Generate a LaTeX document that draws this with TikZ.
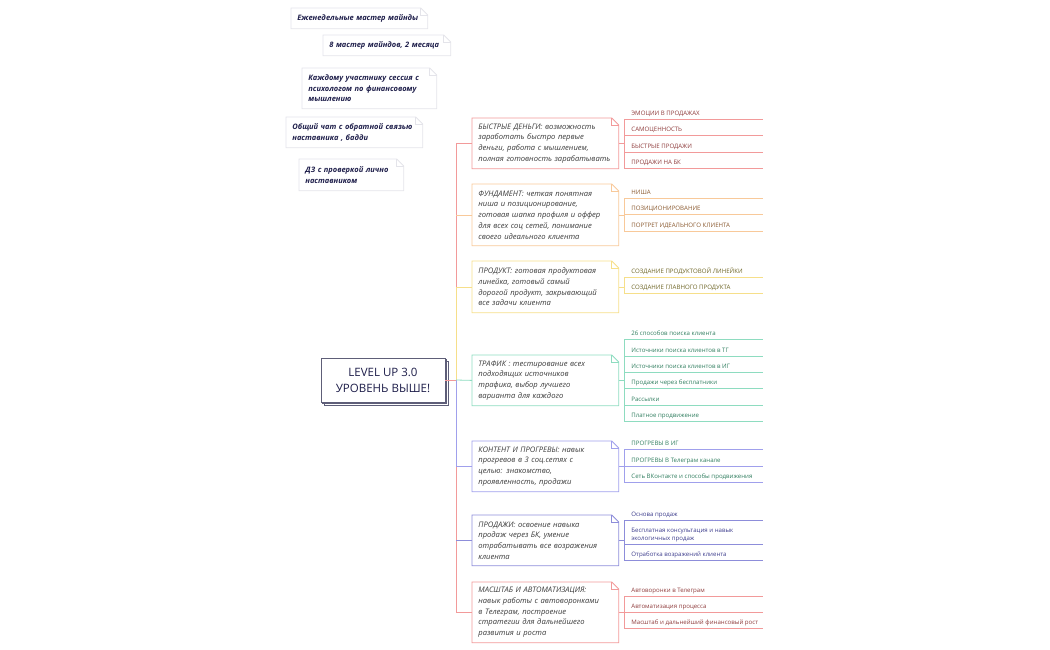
\documentclass[tikz,border=0pt]{standalone}
\usepackage{fontspec}
\setmainfont{Open Sans}
\usepackage{xcolor}
\usepackage{tikz}
\usetikzlibrary{shadows,calc,positioning}
\definecolor{fastred}{HTML}{F29A9A}
\definecolor{baseorange}{HTML}{F8C99A}
\definecolor{prodyellow}{HTML}{F6DF8A}
\definecolor{trafgreen}{HTML}{8EDCC0}
\definecolor{contblue}{HTML}{A0A0EC}
\definecolor{salesblue}{HTML}{8D8DDA}
\definecolor{scalered}{HTML}{F29A9A}
\definecolor{redtext}{HTML}{8E3B3B}
\definecolor{browntext}{HTML}{8A5A30}
\definecolor{olivetext}{HTML}{6E6526}
\definecolor{greentext}{HTML}{2F7D5E}
\definecolor{navytext}{HTML}{3C3C8C}
\definecolor{bodytext}{HTML}{3A3A3A}
\definecolor{notetext}{HTML}{1E1E4A}
\definecolor{notegray}{HTML}{E4E4EA}
\definecolor{rootline}{HTML}{5E5E78}
\newcommand{\dogear}[2]{%
  \draw[#2] ([xshift=-7pt]#1.north east) -- (#1.north west) -- (#1.south west)
    -- (#1.south east) -- ([yshift=-7pt]#1.north east) -- cycle;
  \draw[#2] ([xshift=-7pt]#1.north east) |- ([yshift=-7pt]#1.north east);
}

\begin{document}
\begin{tikzpicture}[x=1pt, y=-1pt, line width=0.8pt,
  note/.style={anchor=north west, text width=#1, inner xsep=6pt, align=left, text=notetext,
    font=\fontsize{7.5}{10.5}\selectfont\bfseries\itshape},
  branch/.style={anchor=north west, text width=134pt, inner xsep=6pt, align=left, text=bodytext,
    font=\fontsize{7.6}{10.7}\selectfont\itshape},
  leaf/.style={anchor=south west, inner xsep=7pt, inner ysep=2.5pt, text depth=1pt,
    align=left, font=\fontsize{6.1}{8}\selectfont,
    append after command={(\tikzlastnode.south west) edge[draw=#1] ++(139,0)}},
  root/.style={draw=rootline, fill=white, minimum width=124pt, minimum height=44pt, align=center,
    text=notetext, font=\fontsize{11.5}{16}\selectfont,
    double copy shadow={shadow xshift=1.5pt, shadow yshift=-1.5pt, draw=rootline, fill=white}}]
\useasboundingbox (0,0) rectangle (1050,650);

% notes
\node[note=124pt, minimum height=20pt] (weekly) at (291,8) {Еженедельные мастер майнды};
\node[note=115pt, minimum height=20pt] (eight) at (323,35) {8 мастер майндов, 2 месяца};
\node[note=122pt, minimum height=40pt] (session) at (302,68) {Каждому участнику сессия с\\психологом по финансовому\\мышлению};
\node[note=124pt, minimum height=30pt] (chat) at (286,117) {Общий чат с обратной связью\\наставника , бадди};
\node[note=92pt, minimum height=31pt] (homework) at (299,159) {ДЗ с проверкой лично\\наставником};
\dogear{weekly}{notegray}
\dogear{eight}{notegray}
\dogear{session}{notegray}
\dogear{chat}{notegray}
\dogear{homework}{notegray}

% root
\node[root] (levelup) at (383,380) {LEVEL UP 3.0\\УРОВЕНЬ ВЫШЕ!};
\coordinate (trunk) at (456,380);

% branches
\node[branch, minimum height=50pt] (fast) at (472,118) {БЫСТРЫЕ ДЕНЬГИ: возможность\\заработать быстро первые\\деньги, работа с мышлением,\\полная готовность зарабатывать};
\node[branch, minimum height=61pt] (base) at (472,184) {ФУНДАМЕНТ: четкая понятная\\ниша и позиционирование,\\готовая шапка профиля и оффер\\для всех соц сетей, понимание\\своего идеального клиента};
\node[branch, minimum height=51pt] (product) at (472,261) {ПРОДУКТ: готовая продуктовая\\линейка, готовый самый\\дорогой продукт, закрывающий\\все задачи клиента};
\node[branch, minimum height=50pt] (traffic) at (472,355) {ТРАФИК : тестирование всех\\подходящих источников\\трафика, выбор лучшего\\варианта для каждого};
\node[branch, minimum height=50pt] (content) at (472,441) {КОНТЕНТ И ПРОГРЕВЫ: навык\\прогревов в 3 соц.сетях с\\целью: знакомство,\\проявленность, продажи};
\node[branch, minimum height=50pt] (sales) at (472,515) {ПРОДАЖИ: освоение навыка\\продаж через БК, умение\\отрабатывать все возражения\\клиента};
\node[branch, minimum height=60pt] (scale) at (472,582) {МАСШТАБ И АВТОМАТИЗАЦИЯ:\\навык работы с автоворонками\\в Телеграм, построение\\стратегии для дальнейшего\\развития и роста};
\dogear{fast}{fastred}
\dogear{base}{baseorange}
\dogear{product}{prodyellow}
\dogear{traffic}{trafgreen}
\dogear{content}{contblue}
\dogear{sales}{salesblue}
\dogear{scale}{scalered}

% trunk
\draw[fastred] (fast.west) -| (trunk);
\draw[baseorange] (base.west) -- (base.west -| trunk);
\draw[prodyellow] (product.west) -| (trunk);
\draw[scalered] (scale.west) -| (trunk);
\draw[salesblue] (sales.west) -- (sales.west -| trunk);
\draw[contblue] (content.west) -| (trunk);
\draw[fastred] (levelup.east) -- (trunk);
\draw[trafgreen] (traffic.west) -- (trunk);

% leaves
\node[leaf=fastred, text=redtext] (fast1) at (624,119) {ЭМОЦИИ В ПРОДАЖАХ};
\node[leaf=fastred, text=redtext] (fast2) at (624,135) {САМОЦЕННОСТЬ};
\node[leaf=fastred, text=redtext] (fast3) at (624,152) {БЫСТРЫЕ ПРОДАЖИ};
\node[leaf=fastred, text=redtext] (fast4) at (624,168) {ПРОДАЖИ НА БК};
\draw[fastred] (fast1.south west) -- (fast4.south west);
\draw[fastred] (fast.east) -- (fast.east -| fast1.south west);

\node[leaf=baseorange, text=browntext] (base1) at (624,198) {НИША};
\node[leaf=baseorange, text=browntext] (base2) at (624,214) {ПОЗИЦИОНИРОВАНИЕ};
\node[leaf=baseorange, text=browntext] (base3) at (624,231) {ПОРТРЕТ ИДЕАЛЬНОГО КЛИЕНТА};
\draw[baseorange] (base1.south west) -- (base3.south west);
\draw[baseorange] (base.east) -- (base.east -| base1.south west);

\node[leaf=prodyellow, text=olivetext] (product1) at (624,277) {СОЗДАНИЕ ПРОДУКТОВОЙ ЛИНЕЙКИ};
\node[leaf=prodyellow, text=olivetext] (product2) at (624,293) {СОЗДАНИЕ ГЛАВНОГО ПРОДУКТА};
\draw[prodyellow] (product1.south west) -- (product2.south west);
\draw[prodyellow] (product.east) -- (product.east -| product1.south west);

\node[leaf=trafgreen, text=greentext] (traffic1) at (624,339) {26 способов поиска клиента};
\node[leaf=trafgreen, text=greentext] (traffic2) at (624,356) {Источники поиска клиентов в ТГ};
\node[leaf=trafgreen, text=greentext] (traffic3) at (624,372) {Источники поиска клиентов в ИГ};
\node[leaf=trafgreen, text=greentext] (traffic4) at (624,388) {Продажи через бесплатники};
\node[leaf=trafgreen, text=greentext] (traffic5) at (624,405) {Рассылки};
\node[leaf=trafgreen, text=greentext] (traffic6) at (624,421) {Платное продвижение};
\draw[trafgreen] (traffic1.south west) -- (traffic6.south west);
\draw[trafgreen] (traffic.east) -- (traffic.east -| traffic1.south west);

\node[leaf=contblue, text=greentext] (content1) at (624,449) {ПРОГРЕВЫ В ИГ};
\node[leaf=contblue, text=greentext] (content2) at (624,466) {ПРОГРЕВЫ В Телеграм канале};
\node[leaf=contblue, text=greentext] (content3) at (624,482) {Сеть ВКонтакте и способы продвижения};
\draw[contblue] (content1.south west) -- (content3.south west);
\draw[contblue] (content.east) -- (content.east -| content1.south west);

\node[leaf=salesblue, text=navytext] (sales1) at (624,520) {Основа продаж};
\node[leaf=salesblue, text=navytext] (sales2) at (624,544) {Бесплатная консультация и навык\\экологичных продаж};
\node[leaf=salesblue, text=navytext] (sales3) at (624,560) {Отработка возражений клиента};
\draw[salesblue] (sales1.south west) -- (sales3.south west);
\draw[salesblue] (sales.east) -- (sales.east -| sales1.south west);

\node[leaf=scalered, text=redtext] (scale1) at (624,596) {Автоворонки в Телеграм};
\node[leaf=scalered, text=redtext] (scale2) at (624,612) {Автоматизация процесса};
\node[leaf=scalered, text=redtext] (scale3) at (624,628) {Масштаб и дальнейший финансовый рост};
\draw[scalered] (scale1.south west) -- (scale3.south west);
\draw[scalered] (scale.east) -- (scale.east -| scale1.south west);
\end{tikzpicture}
\end{document}
